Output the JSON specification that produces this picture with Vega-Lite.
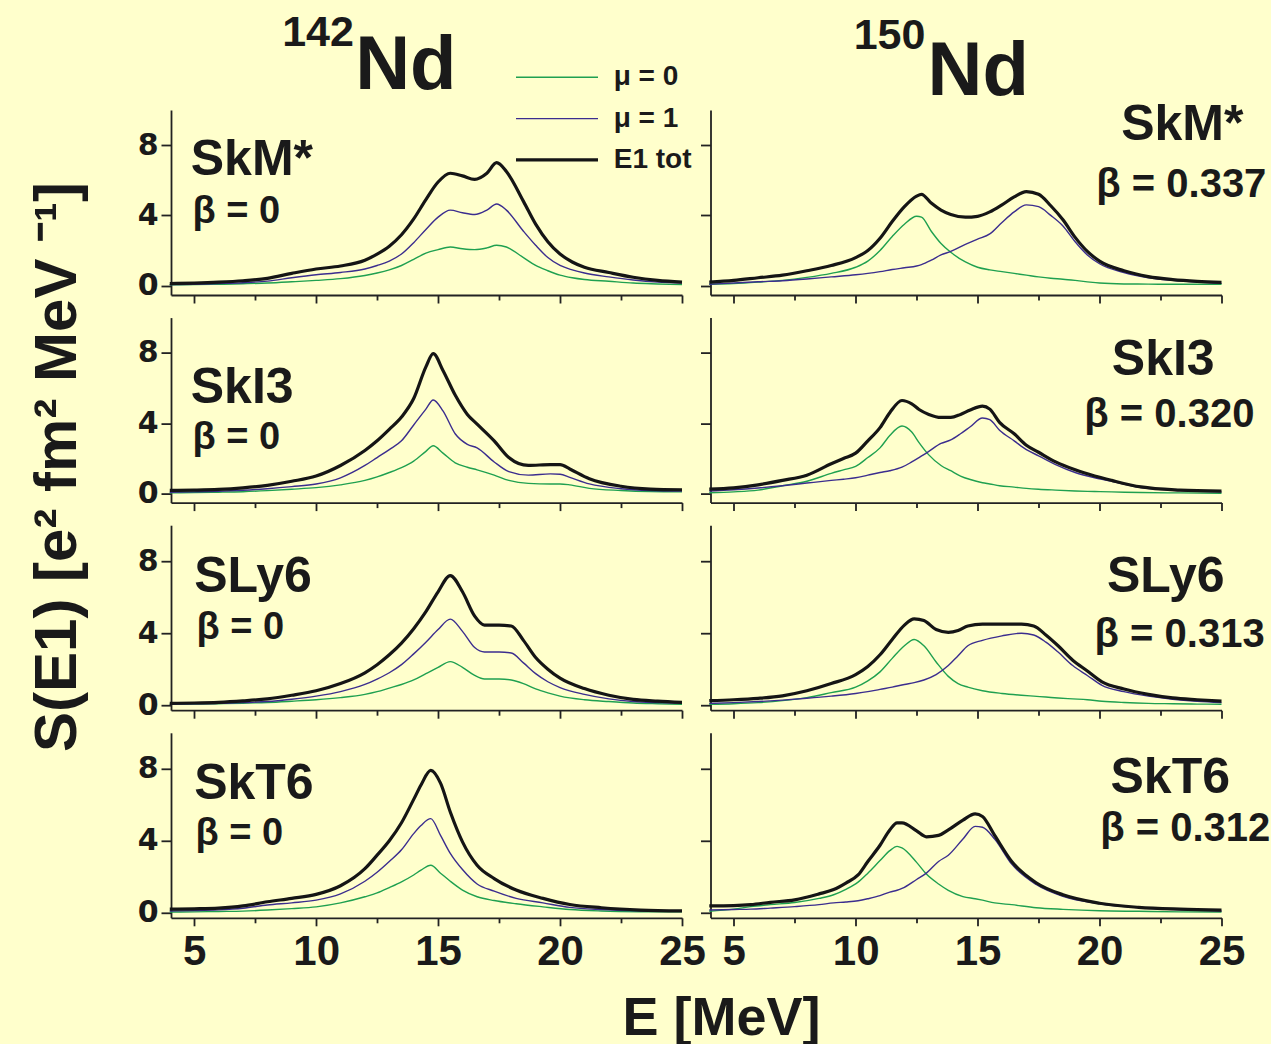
{
"$schema":"https://vega.github.io/schema/vega-lite/v6.json",
"background":"#FFFFCC",
"padding":{"left":28,"top":12,"right":0,"bottom":0},
"title":{"text":"S(E1) [e² fm² MeV ⁻¹]","orient":"left","anchor":"middle","font":"Liberation Sans","fontSize":60,"fontWeight":"bold","color":"#1a1a1a","offset":48,"dx":62},
"datasets":{
"d":[
{"n":"142","f":"SkM*","E":4,"m0":0.05,"m1":0.06,"t":0.12},
{"n":"142","f":"SkM*","E":5,"m0":0.06,"m1":0.08,"t":0.15},
{"n":"142","f":"SkM*","E":6,"m0":0.08,"m1":0.12,"t":0.2},
{"n":"142","f":"SkM*","E":7,"m0":0.11,"m1":0.17,"t":0.28},
{"n":"142","f":"SkM*","E":8,"m0":0.15,"m1":0.26,"t":0.42},
{"n":"142","f":"SkM*","E":9,"m0":0.22,"m1":0.45,"t":0.7},
{"n":"142","f":"SkM*","E":10,"m0":0.3,"m1":0.62,"t":0.95},
{"n":"142","f":"SkM*","E":11,"m0":0.4,"m1":0.75,"t":1.12},
{"n":"142","f":"SkM*","E":12,"m0":0.58,"m1":0.95,"t":1.45},
{"n":"142","f":"SkM*","E":12.5,"m0":0.72,"m1":1.15,"t":1.8},
{"n":"142","f":"SkM*","E":13,"m0":0.9,"m1":1.4,"t":2.25},
{"n":"142","f":"SkM*","E":13.5,"m0":1.15,"m1":1.8,"t":2.9},
{"n":"142","f":"SkM*","E":14,"m0":1.5,"m1":2.45,"t":3.8},
{"n":"142","f":"SkM*","E":14.5,"m0":1.85,"m1":3.2,"t":4.9},
{"n":"142","f":"SkM*","E":15,"m0":2.05,"m1":3.9,"t":5.9},
{"n":"142","f":"SkM*","E":15.5,"m0":2.2,"m1":4.3,"t":6.4},
{"n":"142","f":"SkM*","E":16,"m0":2.1,"m1":4.15,"t":6.25},
{"n":"142","f":"SkM*","E":16.5,"m0":2.05,"m1":4.05,"t":6.05},
{"n":"142","f":"SkM*","E":17,"m0":2.15,"m1":4.3,"t":6.4},
{"n":"142","f":"SkM*","E":17.4,"m0":2.3,"m1":4.65,"t":7.0},
{"n":"142","f":"SkM*","E":17.8,"m0":2.2,"m1":4.3,"t":6.5},
{"n":"142","f":"SkM*","E":18.5,"m0":1.6,"m1":3.1,"t":4.8},
{"n":"142","f":"SkM*","E":19,"m0":1.15,"m1":2.3,"t":3.5},
{"n":"142","f":"SkM*","E":19.5,"m0":0.85,"m1":1.6,"t":2.5},
{"n":"142","f":"SkM*","E":20,"m0":0.6,"m1":1.15,"t":1.8},
{"n":"142","f":"SkM*","E":20.5,"m0":0.45,"m1":0.9,"t":1.35},
{"n":"142","f":"SkM*","E":21,"m0":0.35,"m1":0.72,"t":1.05},
{"n":"142","f":"SkM*","E":22,"m0":0.25,"m1":0.5,"t":0.75},
{"n":"142","f":"SkM*","E":23,"m0":0.15,"m1":0.32,"t":0.48},
{"n":"142","f":"SkM*","E":24,"m0":0.1,"m1":0.2,"t":0.3},
{"n":"142","f":"SkM*","E":25,"m0":0.06,"m1":0.15,"t":0.2},
{"n":"142","f":"SkI3","E":4,"m0":0.05,"m1":0.08,"t":0.18},
{"n":"142","f":"SkI3","E":5,"m0":0.06,"m1":0.1,"t":0.2},
{"n":"142","f":"SkI3","E":6,"m0":0.08,"m1":0.13,"t":0.24},
{"n":"142","f":"SkI3","E":7,"m0":0.11,"m1":0.19,"t":0.33},
{"n":"142","f":"SkI3","E":8,"m0":0.17,"m1":0.28,"t":0.47},
{"n":"142","f":"SkI3","E":9,"m0":0.25,"m1":0.4,"t":0.7},
{"n":"142","f":"SkI3","E":10,"m0":0.34,"m1":0.55,"t":1.0},
{"n":"142","f":"SkI3","E":11,"m0":0.5,"m1":0.9,"t":1.6},
{"n":"142","f":"SkI3","E":12,"m0":0.75,"m1":1.6,"t":2.45},
{"n":"142","f":"SkI3","E":12.5,"m0":0.95,"m1":2.05,"t":3.0},
{"n":"142","f":"SkI3","E":13,"m0":1.2,"m1":2.5,"t":3.65},
{"n":"142","f":"SkI3","E":13.5,"m0":1.48,"m1":3.0,"t":4.35},
{"n":"142","f":"SkI3","E":14,"m0":1.85,"m1":3.9,"t":5.4},
{"n":"142","f":"SkI3","E":14.5,"m0":2.4,"m1":4.8,"t":7.2},
{"n":"142","f":"SkI3","E":14.8,"m0":2.72,"m1":5.32,"t":7.95},
{"n":"142","f":"SkI3","E":15.2,"m0":2.3,"m1":4.7,"t":7.0},
{"n":"142","f":"SkI3","E":15.7,"m0":1.75,"m1":3.4,"t":5.6},
{"n":"142","f":"SkI3","E":16.2,"m0":1.5,"m1":2.8,"t":4.5},
{"n":"142","f":"SkI3","E":16.6,"m0":1.35,"m1":2.6,"t":3.95},
{"n":"142","f":"SkI3","E":17.3,"m0":1.05,"m1":1.8,"t":3.0},
{"n":"142","f":"SkI3","E":17.9,"m0":0.75,"m1":1.25,"t":2.05},
{"n":"142","f":"SkI3","E":18.7,"m0":0.58,"m1":1.05,"t":1.6},
{"n":"142","f":"SkI3","E":19.6,"m0":0.55,"m1":1.12,"t":1.65},
{"n":"142","f":"SkI3","E":20,"m0":0.55,"m1":1.1,"t":1.65},
{"n":"142","f":"SkI3","E":20.4,"m0":0.5,"m1":0.92,"t":1.4},
{"n":"142","f":"SkI3","E":21.2,"m0":0.3,"m1":0.55,"t":0.85},
{"n":"142","f":"SkI3","E":22.5,"m0":0.18,"m1":0.28,"t":0.42},
{"n":"142","f":"SkI3","E":23.7,"m0":0.12,"m1":0.18,"t":0.26},
{"n":"142","f":"SkI3","E":25,"m0":0.1,"m1":0.15,"t":0.22},
{"n":"142","f":"SLy6","E":4,"m0":0.05,"m1":0.05,"t":0.1},
{"n":"142","f":"SLy6","E":5,"m0":0.06,"m1":0.07,"t":0.12},
{"n":"142","f":"SLy6","E":6,"m0":0.08,"m1":0.1,"t":0.16},
{"n":"142","f":"SLy6","E":7,"m0":0.11,"m1":0.14,"t":0.24},
{"n":"142","f":"SLy6","E":8,"m0":0.15,"m1":0.2,"t":0.35},
{"n":"142","f":"SLy6","E":9,"m0":0.22,"m1":0.33,"t":0.55},
{"n":"142","f":"SLy6","E":10,"m0":0.3,"m1":0.5,"t":0.8},
{"n":"142","f":"SLy6","E":11,"m0":0.42,"m1":0.75,"t":1.2},
{"n":"142","f":"SLy6","E":12,"m0":0.6,"m1":1.15,"t":1.8},
{"n":"142","f":"SLy6","E":12.5,"m0":0.75,"m1":1.45,"t":2.25},
{"n":"142","f":"SLy6","E":13,"m0":0.95,"m1":1.8,"t":2.8},
{"n":"142","f":"SLy6","E":13.5,"m0":1.15,"m1":2.25,"t":3.45},
{"n":"142","f":"SLy6","E":14,"m0":1.4,"m1":2.85,"t":4.25},
{"n":"142","f":"SLy6","E":14.5,"m0":1.75,"m1":3.5,"t":5.2},
{"n":"142","f":"SLy6","E":15,"m0":2.1,"m1":4.2,"t":6.3},
{"n":"142","f":"SLy6","E":15.5,"m0":2.42,"m1":4.78,"t":7.2},
{"n":"142","f":"SLy6","E":16,"m0":2.1,"m1":4.1,"t":6.3},
{"n":"142","f":"SLy6","E":16.5,"m0":1.65,"m1":3.2,"t":4.95},
{"n":"142","f":"SLy6","E":16.9,"m0":1.45,"m1":2.95,"t":4.45},
{"n":"142","f":"SLy6","E":17.5,"m0":1.45,"m1":2.95,"t":4.45},
{"n":"142","f":"SLy6","E":18,"m0":1.4,"m1":2.9,"t":4.4},
{"n":"142","f":"SLy6","E":18.5,"m0":1.2,"m1":2.35,"t":3.6},
{"n":"142","f":"SLy6","E":19,"m0":0.9,"m1":1.75,"t":2.65},
{"n":"142","f":"SLy6","E":19.5,"m0":0.68,"m1":1.3,"t":2.0},
{"n":"142","f":"SLy6","E":20,"m0":0.5,"m1":0.98,"t":1.5},
{"n":"142","f":"SLy6","E":21,"m0":0.3,"m1":0.6,"t":0.92},
{"n":"142","f":"SLy6","E":22,"m0":0.2,"m1":0.35,"t":0.55},
{"n":"142","f":"SLy6","E":23,"m0":0.12,"m1":0.2,"t":0.32},
{"n":"142","f":"SLy6","E":24,"m0":0.08,"m1":0.14,"t":0.22},
{"n":"142","f":"SLy6","E":25,"m0":0.05,"m1":0.1,"t":0.15},
{"n":"142","f":"SkT6","E":4,"m0":0.04,"m1":0.1,"t":0.2},
{"n":"142","f":"SkT6","E":5,"m0":0.05,"m1":0.12,"t":0.22},
{"n":"142","f":"SkT6","E":6,"m0":0.07,"m1":0.16,"t":0.26},
{"n":"142","f":"SkT6","E":7,"m0":0.09,"m1":0.25,"t":0.38},
{"n":"142","f":"SkT6","E":8,"m0":0.15,"m1":0.43,"t":0.61},
{"n":"142","f":"SkT6","E":9,"m0":0.23,"m1":0.55,"t":0.8},
{"n":"142","f":"SkT6","E":10,"m0":0.33,"m1":0.7,"t":1.02},
{"n":"142","f":"SkT6","E":11,"m0":0.55,"m1":1.05,"t":1.5},
{"n":"142","f":"SkT6","E":12,"m0":0.89,"m1":1.75,"t":2.45},
{"n":"142","f":"SkT6","E":12.5,"m0":1.1,"m1":2.25,"t":3.2},
{"n":"142","f":"SkT6","E":13,"m0":1.4,"m1":2.85,"t":4.0},
{"n":"142","f":"SkT6","E":13.5,"m0":1.72,"m1":3.5,"t":5.0},
{"n":"142","f":"SkT6","E":14,"m0":2.1,"m1":4.4,"t":6.3},
{"n":"142","f":"SkT6","E":14.3,"m0":2.37,"m1":4.85,"t":7.1},
{"n":"142","f":"SkT6","E":14.7,"m0":2.64,"m1":5.23,"t":7.91},
{"n":"142","f":"SkT6","E":15.1,"m0":2.2,"m1":4.3,"t":7.2},
{"n":"142","f":"SkT6","E":15.5,"m0":1.75,"m1":3.3,"t":5.6},
{"n":"142","f":"SkT6","E":16,"m0":1.26,"m1":2.4,"t":3.94},
{"n":"142","f":"SkT6","E":16.6,"m0":0.89,"m1":1.6,"t":2.64},
{"n":"142","f":"SkT6","E":17.3,"m0":0.68,"m1":1.2,"t":1.9},
{"n":"142","f":"SkT6","E":18.2,"m0":0.5,"m1":0.8,"t":1.26},
{"n":"142","f":"SkT6","E":19.3,"m0":0.33,"m1":0.55,"t":0.8},
{"n":"142","f":"SkT6","E":20.4,"m0":0.18,"m1":0.3,"t":0.46},
{"n":"142","f":"SkT6","E":21.7,"m0":0.1,"m1":0.18,"t":0.28},
{"n":"142","f":"SkT6","E":23.3,"m0":0.06,"m1":0.11,"t":0.15},
{"n":"142","f":"SkT6","E":25,"m0":0.05,"m1":0.08,"t":0.1},
{"n":"150","f":"SkM*","E":4,"m0":0.08,"m1":0.08,"t":0.2},
{"n":"150","f":"SkM*","E":5,"m0":0.12,"m1":0.15,"t":0.3},
{"n":"150","f":"SkM*","E":6,"m0":0.2,"m1":0.22,"t":0.45},
{"n":"150","f":"SkM*","E":7,"m0":0.3,"m1":0.28,"t":0.6},
{"n":"150","f":"SkM*","E":8,"m0":0.47,"m1":0.38,"t":0.85},
{"n":"150","f":"SkM*","E":9,"m0":0.7,"m1":0.5,"t":1.15},
{"n":"150","f":"SkM*","E":10,"m0":1.05,"m1":0.62,"t":1.6},
{"n":"150","f":"SkM*","E":10.5,"m0":1.4,"m1":0.7,"t":2.0},
{"n":"150","f":"SkM*","E":11,"m0":2.0,"m1":0.8,"t":2.7},
{"n":"150","f":"SkM*","E":11.5,"m0":2.8,"m1":0.92,"t":3.65},
{"n":"150","f":"SkM*","E":12,"m0":3.5,"m1":1.02,"t":4.5},
{"n":"150","f":"SkM*","E":12.5,"m0":3.95,"m1":1.12,"t":5.1},
{"n":"150","f":"SkM*","E":12.7,"m0":3.9,"m1":1.2,"t":5.2},
{"n":"150","f":"SkM*","E":13.1,"m0":3.1,"m1":1.45,"t":4.7},
{"n":"150","f":"SkM*","E":13.5,"m0":2.4,"m1":1.75,"t":4.3},
{"n":"150","f":"SkM*","E":13.9,"m0":1.9,"m1":1.95,"t":4.05},
{"n":"150","f":"SkM*","E":14.5,"m0":1.35,"m1":2.35,"t":3.9},
{"n":"150","f":"SkM*","E":15,"m0":1.05,"m1":2.65,"t":3.95},
{"n":"150","f":"SkM*","E":15.5,"m0":0.9,"m1":2.95,"t":4.2},
{"n":"150","f":"SkM*","E":16,"m0":0.8,"m1":3.6,"t":4.6},
{"n":"150","f":"SkM*","E":16.5,"m0":0.7,"m1":4.2,"t":5.05},
{"n":"150","f":"SkM*","E":17,"m0":0.6,"m1":4.6,"t":5.35},
{"n":"150","f":"SkM*","E":17.5,"m0":0.5,"m1":4.5,"t":5.2},
{"n":"150","f":"SkM*","E":18,"m0":0.42,"m1":4.0,"t":4.55},
{"n":"150","f":"SkM*","E":18.5,"m0":0.37,"m1":3.4,"t":3.75},
{"n":"150","f":"SkM*","E":19,"m0":0.3,"m1":2.5,"t":2.75},
{"n":"150","f":"SkM*","E":19.5,"m0":0.22,"m1":1.75,"t":1.95},
{"n":"150","f":"SkM*","E":20,"m0":0.15,"m1":1.25,"t":1.4},
{"n":"150","f":"SkM*","E":21,"m0":0.1,"m1":0.75,"t":0.85},
{"n":"150","f":"SkM*","E":22,"m0":0.09,"m1":0.45,"t":0.52},
{"n":"150","f":"SkM*","E":23,"m0":0.08,"m1":0.3,"t":0.35},
{"n":"150","f":"SkM*","E":24,"m0":0.08,"m1":0.2,"t":0.25},
{"n":"150","f":"SkM*","E":25,"m0":0.08,"m1":0.13,"t":0.19},
{"n":"150","f":"SkI3","E":4,"m0":0.05,"m1":0.15,"t":0.25},
{"n":"150","f":"SkI3","E":5,"m0":0.1,"m1":0.22,"t":0.33},
{"n":"150","f":"SkI3","E":6,"m0":0.2,"m1":0.32,"t":0.5},
{"n":"150","f":"SkI3","E":7,"m0":0.45,"m1":0.45,"t":0.75},
{"n":"150","f":"SkI3","E":8,"m0":0.7,"m1":0.6,"t":1.05},
{"n":"150","f":"SkI3","E":9,"m0":1.15,"m1":0.75,"t":1.7},
{"n":"150","f":"SkI3","E":9.5,"m0":1.35,"m1":0.82,"t":2.0},
{"n":"150","f":"SkI3","E":10,"m0":1.55,"m1":0.9,"t":2.3},
{"n":"150","f":"SkI3","E":10.5,"m0":2.05,"m1":1.05,"t":3.0},
{"n":"150","f":"SkI3","E":11,"m0":2.6,"m1":1.2,"t":3.75},
{"n":"150","f":"SkI3","E":11.4,"m0":3.3,"m1":1.3,"t":4.6},
{"n":"150","f":"SkI3","E":11.9,"m0":3.84,"m1":1.5,"t":5.29},
{"n":"150","f":"SkI3","E":12.3,"m0":3.5,"m1":1.8,"t":5.1},
{"n":"150","f":"SkI3","E":12.6,"m0":2.9,"m1":2.05,"t":4.78},
{"n":"150","f":"SkI3","E":13,"m0":2.2,"m1":2.4,"t":4.5},
{"n":"150","f":"SkI3","E":13.5,"m0":1.6,"m1":2.85,"t":4.33},
{"n":"150","f":"SkI3","E":13.9,"m0":1.3,"m1":3.05,"t":4.33},
{"n":"150","f":"SkI3","E":14.3,"m0":1.0,"m1":3.4,"t":4.5},
{"n":"150","f":"SkI3","E":14.7,"m0":0.8,"m1":3.8,"t":4.75},
{"n":"150","f":"SkI3","E":15.2,"m0":0.62,"m1":4.3,"t":4.97},
{"n":"150","f":"SkI3","E":15.5,"m0":0.55,"m1":4.2,"t":4.8},
{"n":"150","f":"SkI3","E":15.9,"m0":0.45,"m1":3.6,"t":4.05},
{"n":"150","f":"SkI3","E":16.5,"m0":0.37,"m1":3.0,"t":3.4},
{"n":"150","f":"SkI3","E":17,"m0":0.3,"m1":2.5,"t":2.75},
{"n":"150","f":"SkI3","E":17.5,"m0":0.25,"m1":2.15,"t":2.35},
{"n":"150","f":"SkI3","E":18.2,"m0":0.2,"m1":1.65,"t":1.8},
{"n":"150","f":"SkI3","E":19,"m0":0.15,"m1":1.2,"t":1.35},
{"n":"150","f":"SkI3","E":19.8,"m0":0.12,"m1":0.9,"t":1.0},
{"n":"150","f":"SkI3","E":20.5,"m0":0.1,"m1":0.7,"t":0.75},
{"n":"150","f":"SkI3","E":21.7,"m0":0.06,"m1":0.34,"t":0.38},
{"n":"150","f":"SkI3","E":23.3,"m0":0.04,"m1":0.17,"t":0.2},
{"n":"150","f":"SkI3","E":25,"m0":0.02,"m1":0.1,"t":0.14},
{"n":"150","f":"SLy6","E":4,"m0":0.05,"m1":0.1,"t":0.25},
{"n":"150","f":"SLy6","E":5,"m0":0.08,"m1":0.14,"t":0.3},
{"n":"150","f":"SLy6","E":6,"m0":0.14,"m1":0.2,"t":0.38},
{"n":"150","f":"SLy6","E":7,"m0":0.25,"m1":0.28,"t":0.52},
{"n":"150","f":"SLy6","E":8,"m0":0.42,"m1":0.38,"t":0.8},
{"n":"150","f":"SLy6","E":9,"m0":0.7,"m1":0.5,"t":1.2},
{"n":"150","f":"SLy6","E":10,"m0":1.0,"m1":0.65,"t":1.7},
{"n":"150","f":"SLy6","E":10.5,"m0":1.35,"m1":0.75,"t":2.15},
{"n":"150","f":"SLy6","E":11,"m0":1.85,"m1":0.88,"t":2.8},
{"n":"150","f":"SLy6","E":11.5,"m0":2.6,"m1":1.0,"t":3.65},
{"n":"150","f":"SLy6","E":12,"m0":3.3,"m1":1.15,"t":4.45},
{"n":"150","f":"SLy6","E":12.4,"m0":3.65,"m1":1.25,"t":4.8},
{"n":"150","f":"SLy6","E":12.8,"m0":3.3,"m1":1.4,"t":4.7},
{"n":"150","f":"SLy6","E":13.3,"m0":2.4,"m1":1.7,"t":4.2},
{"n":"150","f":"SLy6","E":13.8,"m0":1.6,"m1":2.2,"t":4.05},
{"n":"150","f":"SLy6","E":14.2,"m0":1.2,"m1":2.75,"t":4.15},
{"n":"150","f":"SLy6","E":14.6,"m0":1.0,"m1":3.3,"t":4.4},
{"n":"150","f":"SLy6","E":15.2,"m0":0.8,"m1":3.6,"t":4.5},
{"n":"150","f":"SLy6","E":16,"m0":0.65,"m1":3.85,"t":4.5},
{"n":"150","f":"SLy6","E":16.8,"m0":0.55,"m1":4.0,"t":4.5},
{"n":"150","f":"SLy6","E":17.3,"m0":0.5,"m1":3.9,"t":4.4},
{"n":"150","f":"SLy6","E":17.8,"m0":0.45,"m1":3.5,"t":3.9},
{"n":"150","f":"SLy6","E":18.3,"m0":0.4,"m1":2.95,"t":3.3},
{"n":"150","f":"SLy6","E":18.9,"m0":0.35,"m1":2.2,"t":2.5},
{"n":"150","f":"SLy6","E":19.5,"m0":0.3,"m1":1.65,"t":1.9},
{"n":"150","f":"SLy6","E":20.1,"m0":0.22,"m1":1.1,"t":1.3},
{"n":"150","f":"SLy6","E":21,"m0":0.15,"m1":0.75,"t":0.9},
{"n":"150","f":"SLy6","E":22,"m0":0.1,"m1":0.5,"t":0.6},
{"n":"150","f":"SLy6","E":23,"m0":0.08,"m1":0.33,"t":0.4},
{"n":"150","f":"SLy6","E":24,"m0":0.06,"m1":0.22,"t":0.3},
{"n":"150","f":"SLy6","E":25,"m0":0.05,"m1":0.15,"t":0.22},
{"n":"150","f":"SkT6","E":4,"m0":0.08,"m1":0.15,"t":0.38},
{"n":"150","f":"SkT6","E":5,"m0":0.2,"m1":0.18,"t":0.4},
{"n":"150","f":"SkT6","E":5.7,"m0":0.34,"m1":0.2,"t":0.45},
{"n":"150","f":"SkT6","E":6.5,"m0":0.45,"m1":0.26,"t":0.58},
{"n":"150","f":"SkT6","E":7.5,"m0":0.57,"m1":0.34,"t":0.72},
{"n":"150","f":"SkT6","E":8.5,"m0":0.8,"m1":0.45,"t":1.05},
{"n":"150","f":"SkT6","E":9.1,"m0":1.0,"m1":0.55,"t":1.29},
{"n":"150","f":"SkT6","E":9.6,"m0":1.3,"m1":0.6,"t":1.65},
{"n":"150","f":"SkT6","E":10.1,"m0":1.7,"m1":0.67,"t":2.1},
{"n":"150","f":"SkT6","E":10.5,"m0":2.2,"m1":0.78,"t":2.85},
{"n":"150","f":"SkT6","E":11,"m0":2.9,"m1":0.95,"t":3.75},
{"n":"150","f":"SkT6","E":11.4,"m0":3.45,"m1":1.15,"t":4.6},
{"n":"150","f":"SkT6","E":11.7,"m0":3.69,"m1":1.25,"t":5.0},
{"n":"150","f":"SkT6","E":11.9,"m0":3.6,"m1":1.35,"t":5.0},
{"n":"150","f":"SkT6","E":12.5,"m0":2.8,"m1":1.85,"t":4.55},
{"n":"150","f":"SkT6","E":12.9,"m0":2.15,"m1":2.2,"t":4.22},
{"n":"150","f":"SkT6","E":13.4,"m0":1.6,"m1":2.85,"t":4.3},
{"n":"150","f":"SkT6","E":13.8,"m0":1.25,"m1":3.2,"t":4.6},
{"n":"150","f":"SkT6","E":14.4,"m0":0.9,"m1":4.1,"t":5.15},
{"n":"150","f":"SkT6","E":14.9,"m0":0.78,"m1":4.8,"t":5.5},
{"n":"150","f":"SkT6","E":15.2,"m0":0.7,"m1":4.75,"t":5.35},
{"n":"150","f":"SkT6","E":15.7,"m0":0.55,"m1":4.1,"t":4.3},
{"n":"150","f":"SkT6","E":16.4,"m0":0.45,"m1":2.7,"t":2.85},
{"n":"150","f":"SkT6","E":17.4,"m0":0.28,"m1":1.57,"t":1.67},
{"n":"150","f":"SkT6","E":18.5,"m0":0.19,"m1":0.91,"t":1.0},
{"n":"150","f":"SkT6","E":20,"m0":0.11,"m1":0.5,"t":0.53},
{"n":"150","f":"SkT6","E":21.6,"m0":0.08,"m1":0.28,"t":0.3},
{"n":"150","f":"SkT6","E":23.3,"m0":0.05,"m1":0.16,"t":0.2},
{"n":"150","f":"SkT6","E":25,"m0":0.04,"m1":0.1,"t":0.15}
],
"lab":[
{"n":"142","f":"SkM*","b":"β = 0"},
{"n":"142","f":"SkI3","b":"β = 0"},
{"n":"142","f":"SLy6","b":"β = 0"},
{"n":"142","f":"SkT6","b":"β = 0"},
{"n":"150","f":"SkM*","b":"β = 0.337"},
{"n":"150","f":"SkI3","b":"β = 0.320"},
{"n":"150","f":"SLy6","b":"β = 0.313"},
{"n":"150","f":"SkT6","b":"β = 0.312"}
],
"nuc":[{"n":"142","el":"Nd"},{"n":"150","el":"Nd"}]
},
"config":{
"view":{"stroke":null},
"axis":{"domainColor":"#222222","domainWidth":1.8,"tickColor":"#222222","tickWidth":1.8,"grid":false},
"text":{"font":"Liberation Sans","fontWeight":"bold","color":"#1a1a1a","baseline":"alphabetic"},
"line":{"interpolate":"monotone","strokeJoin":"round"}
},
"columns":2,
"spacing":{"row":22.6,"column":28.5},
"bounds":"flush",
"concat":[
{"width":511,"height":185,"layer":[
{"data":{"name":"d"},"transform":[{"filter":"datum.n==='142'&&datum.f==='SkM*'"},{"fold":["m0","m1","t"],"as":["c","S"]}],
"mark":{"type":"line"},
"encoding":{
"x":{"field":"E","type":"quantitative","scale":{"domain":[4.05,25],"nice":false,"zero":false},"axis":{"title":null,"values":[5,7.5,10,12.5,15,17.5,20,22.5,25],"labels":false,"tickSize":{"condition":{"test":"datum.value % 5 === 0","value":8},"value":5}}},
"y":{"field":"S","type":"quantitative","scale":{"domain":[-0.53,10],"nice":false,"zero":false},"axis":{"title":null,"values":[0,2,4,6,8,10],"tickSize":{"condition":{"test":"datum.value % 4 === 0","value":10},"value":6},"labelExpr":"datum.value % 4 === 0 ? datum.label : ''","labelFont":"DejaVu Sans","labelFontSize":30,"labelFontWeight":"bold","labelColor":"#1a1a1a","labelPadding":3,"labelOverlap":false}},
"color":{"field":"c","type":"nominal","scale":{"domain":["m0","m1","t"],"range":["#1FA050","#3B2D8E","#151515"]},"legend":{"title":null,"orient":"none","legendX":344,"legendY":-45.7,"symbolType":"stroke","symbolSize":6724,"symbolOffset":28,"clipHeight":26,"symbolStrokeWidth":{"expr":"datum.value === 't' ? 3.2 : 1.4"},"labelFont":"Liberation Sans","labelFontSize":28,"labelFontWeight":"bold","labelColor":"#1a1a1a","labelOffset":42.7,"rowPadding":13.3,"labelExpr":"datum.value==='m0'?'μ = 0':datum.value==='m1'?'μ = 1':'E1 tot'"}},
"strokeWidth":{"condition":{"test":"datum.c === 't'","value":3.2},"value":1.4}
}},
{"data":{"name":"lab"},"transform":[{"filter":"datum.n==='142'&&datum.f==='SkM*'"}],"mark":{"type":"text","align":"left","fontSize":50},"encoding":{"x":{"datum":4.86},"y":{"datum":6.3},"text":{"field":"f"}}},
{"data":{"name":"lab"},"transform":[{"filter":"datum.n==='142'&&datum.f==='SkM*'"}],"mark":{"type":"text","align":"left","fontSize":38},"encoding":{"x":{"datum":4.93},"y":{"datum":3.54},"text":{"field":"b"}}},
{"data":{"name":"nuc"},"transform":[{"filter":"datum.n==='142'"}],"mark":{"type":"text","align":"right","fontSize":43},"encoding":{"x":{"datum":11.55},"y":{"datum":13.64},"text":{"field":"n"}}},
{"data":{"name":"nuc"},"transform":[{"filter":"datum.n==='142'"}],"mark":{"type":"text","align":"left","fontSize":76},"encoding":{"x":{"datum":11.6},"y":{"datum":11.19},"text":{"field":"el"}}}
]},
{"width":511,"height":185,"layer":[
{"data":{"name":"d"},"transform":[{"filter":"datum.n==='150'&&datum.f==='SkM*'"},{"fold":["m0","m1","t"],"as":["c","S"]}],
"mark":{"type":"line"},
"encoding":{
"x":{"field":"E","type":"quantitative","scale":{"domain":[4.05,25],"nice":false,"zero":false},"axis":{"title":null,"values":[5,7.5,10,12.5,15,17.5,20,22.5,25],"labels":false,"tickSize":{"condition":{"test":"datum.value % 5 === 0","value":8},"value":5}}},
"y":{"field":"S","type":"quantitative","scale":{"domain":[-0.53,10],"nice":false,"zero":false},"axis":{"title":null,"values":[0,2,4,6,8,10],"labels":false,"tickSize":{"condition":{"test":"datum.value % 4 === 0","value":10},"value":6}}},
"color":{"field":"c","type":"nominal","scale":{"domain":["m0","m1","t"],"range":["#1FA050","#3B2D8E","#151515"]}},
"strokeWidth":{"condition":{"test":"datum.c === 't'","value":3.2},"value":1.4}
}},
{"data":{"name":"lab"},"transform":[{"filter":"datum.n==='150'&&datum.f==='SkM*'"}],"mark":{"type":"text","align":"right","fontSize":50},"encoding":{"x":{"datum":25.9},"y":{"datum":8.28},"text":{"field":"f"}}},
{"data":{"name":"lab"},"transform":[{"filter":"datum.n==='150'&&datum.f==='SkM*'"}],"mark":{"type":"text","align":"right","fontSize":40},"encoding":{"x":{"datum":26.84},"y":{"datum":5.02},"text":{"field":"b"}}},
{"data":{"name":"nuc"},"transform":[{"filter":"datum.n==='150'"}],"mark":{"type":"text","align":"right","fontSize":43},"encoding":{"x":{"datum":12.86},"y":{"datum":13.47},"text":{"field":"n"}}},
{"data":{"name":"nuc"},"transform":[{"filter":"datum.n==='150'"}],"mark":{"type":"text","align":"left","fontSize":76},"encoding":{"x":{"datum":12.95},"y":{"datum":10.85},"text":{"field":"el"}}}
]},
{"width":511,"height":185,"layer":[
{"data":{"name":"d"},"transform":[{"filter":"datum.n==='142'&&datum.f==='SkI3'"},{"fold":["m0","m1","t"],"as":["c","S"]}],
"mark":{"type":"line"},
"encoding":{
"x":{"field":"E","type":"quantitative","scale":{"domain":[4.05,25],"nice":false,"zero":false},"axis":{"title":null,"values":[5,7.5,10,12.5,15,17.5,20,22.5,25],"labels":false,"tickSize":{"condition":{"test":"datum.value % 5 === 0","value":8},"value":5}}},
"y":{"field":"S","type":"quantitative","scale":{"domain":[-0.51,10],"nice":false,"zero":false},"axis":{"title":null,"values":[0,2,4,6,8,10],"tickSize":{"condition":{"test":"datum.value % 4 === 0","value":10},"value":6},"labelExpr":"datum.value % 4 === 0 ? datum.label : ''","labelFont":"DejaVu Sans","labelFontSize":30,"labelFontWeight":"bold","labelColor":"#1a1a1a","labelPadding":3,"labelOverlap":false}},
"color":{"field":"c","type":"nominal","scale":{"domain":["m0","m1","t"],"range":["#1FA050","#3B2D8E","#151515"]}},
"strokeWidth":{"condition":{"test":"datum.c === 't'","value":3.2},"value":1.4}
}},
{"data":{"name":"lab"},"transform":[{"filter":"datum.n==='142'&&datum.f==='SkI3'"}],"mark":{"type":"text","align":"left","fontSize":50},"encoding":{"x":{"datum":4.86},"y":{"datum":5.13},"text":{"field":"f"}}},
{"data":{"name":"lab"},"transform":[{"filter":"datum.n==='142'&&datum.f==='SkI3'"}],"mark":{"type":"text","align":"left","fontSize":38},"encoding":{"x":{"datum":4.93},"y":{"datum":2.52},"text":{"field":"b"}}}
]},
{"width":511,"height":185,"layer":[
{"data":{"name":"d"},"transform":[{"filter":"datum.n==='150'&&datum.f==='SkI3'"},{"fold":["m0","m1","t"],"as":["c","S"]}],
"mark":{"type":"line"},
"encoding":{
"x":{"field":"E","type":"quantitative","scale":{"domain":[4.05,25],"nice":false,"zero":false},"axis":{"title":null,"values":[5,7.5,10,12.5,15,17.5,20,22.5,25],"labels":false,"tickSize":{"condition":{"test":"datum.value % 5 === 0","value":8},"value":5}}},
"y":{"field":"S","type":"quantitative","scale":{"domain":[-0.51,10],"nice":false,"zero":false},"axis":{"title":null,"values":[0,2,4,6,8,10],"labels":false,"tickSize":{"condition":{"test":"datum.value % 4 === 0","value":10},"value":6}}},
"color":{"field":"c","type":"nominal","scale":{"domain":["m0","m1","t"],"range":["#1FA050","#3B2D8E","#151515"]}},
"strokeWidth":{"condition":{"test":"datum.c === 't'","value":3.2},"value":1.4}
}},
{"data":{"name":"lab"},"transform":[{"filter":"datum.n==='150'&&datum.f==='SkI3'"}],"mark":{"type":"text","align":"right","fontSize":50},"encoding":{"x":{"datum":24.72},"y":{"datum":6.76},"text":{"field":"f"}}},
{"data":{"name":"lab"},"transform":[{"filter":"datum.n==='150'&&datum.f==='SkI3'"}],"mark":{"type":"text","align":"right","fontSize":40},"encoding":{"x":{"datum":26.35},"y":{"datum":3.76},"text":{"field":"b"}}}
]},
{"width":511,"height":185,"layer":[
{"data":{"name":"d"},"transform":[{"filter":"datum.n==='142'&&datum.f==='SLy6'"},{"fold":["m0","m1","t"],"as":["c","S"]}],
"mark":{"type":"line"},
"encoding":{
"x":{"field":"E","type":"quantitative","scale":{"domain":[4.05,25],"nice":false,"zero":false},"axis":{"title":null,"values":[5,7.5,10,12.5,15,17.5,20,22.5,25],"labels":false,"tickSize":{"condition":{"test":"datum.value % 5 === 0","value":8},"value":5}}},
"y":{"field":"S","type":"quantitative","scale":{"domain":[-0.28,10],"nice":false,"zero":false},"axis":{"title":null,"values":[0,2,4,6,8,10],"tickSize":{"condition":{"test":"datum.value % 4 === 0","value":10},"value":6},"labelExpr":"datum.value % 4 === 0 ? datum.label : ''","labelFont":"DejaVu Sans","labelFontSize":30,"labelFontWeight":"bold","labelColor":"#1a1a1a","labelPadding":3,"labelOverlap":false}},
"color":{"field":"c","type":"nominal","scale":{"domain":["m0","m1","t"],"range":["#1FA050","#3B2D8E","#151515"]}},
"strokeWidth":{"condition":{"test":"datum.c === 't'","value":3.2},"value":1.4}
}},
{"data":{"name":"lab"},"transform":[{"filter":"datum.n==='142'&&datum.f==='SLy6'"}],"mark":{"type":"text","align":"left","fontSize":50},"encoding":{"x":{"datum":5.0},"y":{"datum":6.31},"text":{"field":"f"}}},
{"data":{"name":"lab"},"transform":[{"filter":"datum.n==='142'&&datum.f==='SLy6'"}],"mark":{"type":"text","align":"left","fontSize":38},"encoding":{"x":{"datum":5.1},"y":{"datum":3.65},"text":{"field":"b"}}}
]},
{"width":511,"height":185,"layer":[
{"data":{"name":"d"},"transform":[{"filter":"datum.n==='150'&&datum.f==='SLy6'"},{"fold":["m0","m1","t"],"as":["c","S"]}],
"mark":{"type":"line"},
"encoding":{
"x":{"field":"E","type":"quantitative","scale":{"domain":[4.05,25],"nice":false,"zero":false},"axis":{"title":null,"values":[5,7.5,10,12.5,15,17.5,20,22.5,25],"labels":false,"tickSize":{"condition":{"test":"datum.value % 5 === 0","value":8},"value":5}}},
"y":{"field":"S","type":"quantitative","scale":{"domain":[-0.28,10],"nice":false,"zero":false},"axis":{"title":null,"values":[0,2,4,6,8,10],"labels":false,"tickSize":{"condition":{"test":"datum.value % 4 === 0","value":10},"value":6}}},
"color":{"field":"c","type":"nominal","scale":{"domain":["m0","m1","t"],"range":["#1FA050","#3B2D8E","#151515"]}},
"strokeWidth":{"condition":{"test":"datum.c === 't'","value":3.2},"value":1.4}
}},
{"data":{"name":"lab"},"transform":[{"filter":"datum.n==='150'&&datum.f==='SLy6'"}],"mark":{"type":"text","align":"right","fontSize":50},"encoding":{"x":{"datum":25.13},"y":{"datum":6.31},"text":{"field":"f"}}},
{"data":{"name":"lab"},"transform":[{"filter":"datum.n==='150'&&datum.f==='SLy6'"}],"mark":{"type":"text","align":"right","fontSize":40},"encoding":{"x":{"datum":26.77},"y":{"datum":3.22},"text":{"field":"b"}}}
]},
{"width":511,"height":185,"layer":[
{"data":{"name":"d"},"transform":[{"filter":"datum.n==='142'&&datum.f==='SkT6'"},{"fold":["m0","m1","t"],"as":["c","S"]}],
"mark":{"type":"line"},
"encoding":{
"x":{"field":"E","type":"quantitative","scale":{"domain":[4.05,25],"nice":false,"zero":false},"axis":{"title":"E [MeV]","titleFont":"Liberation Sans","titleFontSize":54,"titleFontWeight":"bold","titleColor":"#1a1a1a","titleX":550,"titleY":117,"titleBaseline":"alphabetic","titleAlign":"center","values":[5,7.5,10,12.5,15,17.5,20,22.5,25],"tickSize":{"condition":{"test":"datum.value % 5 === 0","value":8},"value":5},"labelExpr":"datum.value % 5 === 0 ? datum.label : ''","labelFont":"Liberation Sans","labelFontSize":42,"labelFontWeight":"bold","labelColor":"#1a1a1a","labelPadding":6,"labelFlush":false,"labelOverlap":false}},
"y":{"field":"S","type":"quantitative","scale":{"domain":[-0.28,10],"nice":false,"zero":false},"axis":{"title":null,"values":[0,2,4,6,8,10],"tickSize":{"condition":{"test":"datum.value % 4 === 0","value":10},"value":6},"labelExpr":"datum.value % 4 === 0 ? datum.label : ''","labelFont":"DejaVu Sans","labelFontSize":30,"labelFontWeight":"bold","labelColor":"#1a1a1a","labelPadding":3,"labelOverlap":false}},
"color":{"field":"c","type":"nominal","scale":{"domain":["m0","m1","t"],"range":["#1FA050","#3B2D8E","#151515"]}},
"strokeWidth":{"condition":{"test":"datum.c === 't'","value":3.2},"value":1.4}
}},
{"data":{"name":"lab"},"transform":[{"filter":"datum.n==='142'&&datum.f==='SkT6'"}],"mark":{"type":"text","align":"left","fontSize":50},"encoding":{"x":{"datum":5.0},"y":{"datum":6.34},"text":{"field":"f"}}},
{"data":{"name":"lab"},"transform":[{"filter":"datum.n==='142'&&datum.f==='SkT6'"}],"mark":{"type":"text","align":"left","fontSize":38},"encoding":{"x":{"datum":5.05},"y":{"datum":3.74},"text":{"field":"b"}}}
]},
{"width":511,"height":185,"layer":[
{"data":{"name":"d"},"transform":[{"filter":"datum.n==='150'&&datum.f==='SkT6'"},{"fold":["m0","m1","t"],"as":["c","S"]}],
"mark":{"type":"line"},
"encoding":{
"x":{"field":"E","type":"quantitative","scale":{"domain":[4.05,25],"nice":false,"zero":false},"axis":{"title":null,"values":[5,7.5,10,12.5,15,17.5,20,22.5,25],"tickSize":{"condition":{"test":"datum.value % 5 === 0","value":8},"value":5},"labelExpr":"datum.value % 5 === 0 ? datum.label : ''","labelFont":"Liberation Sans","labelFontSize":42,"labelFontWeight":"bold","labelColor":"#1a1a1a","labelPadding":6,"labelFlush":false,"labelOverlap":false}},
"y":{"field":"S","type":"quantitative","scale":{"domain":[-0.28,10],"nice":false,"zero":false},"axis":{"title":null,"values":[0,2,4,6,8,10],"labels":false,"tickSize":{"condition":{"test":"datum.value % 4 === 0","value":10},"value":6}}},
"color":{"field":"c","type":"nominal","scale":{"domain":["m0","m1","t"],"range":["#1FA050","#3B2D8E","#151515"]}},
"strokeWidth":{"condition":{"test":"datum.c === 't'","value":3.2},"value":1.4}
}},
{"data":{"name":"lab"},"transform":[{"filter":"datum.n==='150'&&datum.f==='SkT6'"}],"mark":{"type":"text","align":"right","fontSize":50},"encoding":{"x":{"datum":25.35},"y":{"datum":6.65},"text":{"field":"f"}}},
{"data":{"name":"lab"},"transform":[{"filter":"datum.n==='150'&&datum.f==='SkT6'"}],"mark":{"type":"text","align":"right","fontSize":40},"encoding":{"x":{"datum":27.0},"y":{"datum":3.96},"text":{"field":"b"}}}
]}
]
}
